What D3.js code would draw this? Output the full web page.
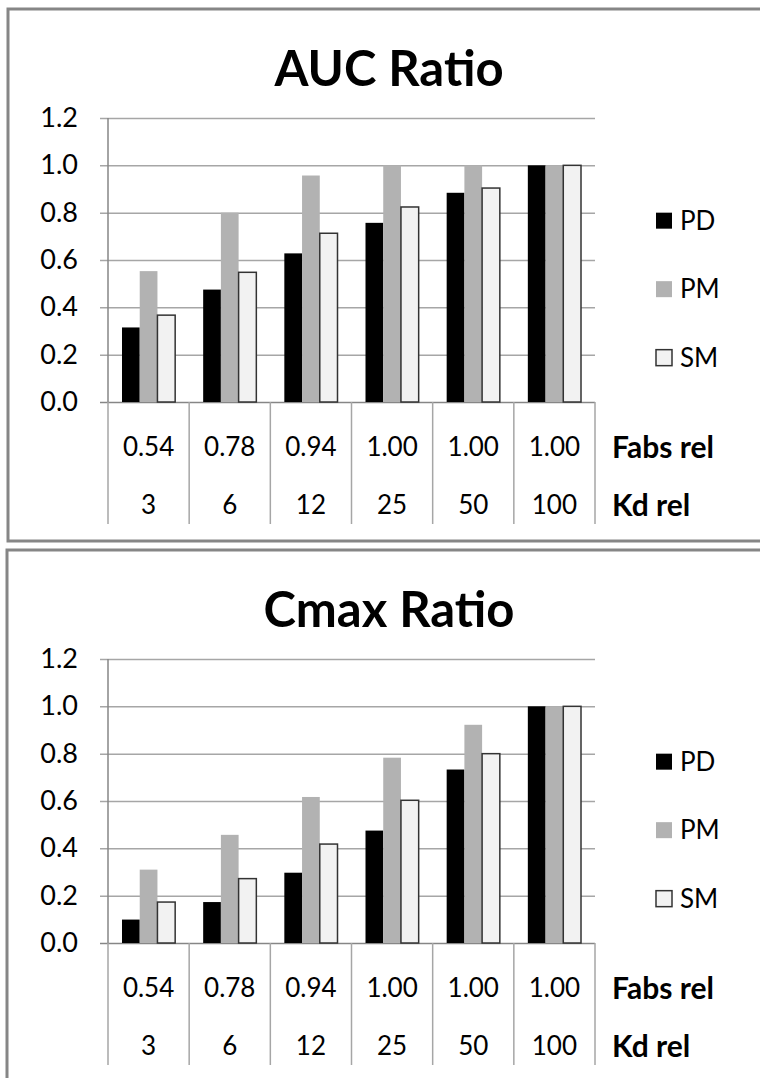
<html>
<head>
<script src="https://d3js.org/d3.v7.min.js"></script>
<style>
  body { margin: 0; background: #fff; }
  text { font-family: Lato, "Open Sans", sans-serif; fill: #000; }
</style>
</head>
<body>
<svg id="chart" width="760" height="1078"></svg>
<script>
// data
const kdRel = ["3", "6", "12", "25", "50", "100"];
const fabsRel = ["0.54", "0.78", "0.94", "1.00", "1.00", "1.00"];
const seriesNames = ["PD", "PM", "SM"];
const yTicks = [0, 0.2, 0.4, 0.6, 0.8, 1.0, 1.2];

const aucPD = [0.315, 0.475, 0.628, 0.757, 0.884, 1.0];
const aucPM = [0.553, 0.80, 0.957, 1.0, 1.0, 1.0];
const aucSM = [0.367, 0.548, 0.713, 0.824, 0.904, 1.0];

const cmaxPD = [0.099, 0.173, 0.297, 0.475, 0.733, 1.0];
const cmaxPM = [0.31, 0.457, 0.617, 0.783, 0.922, 1.0];
const cmaxSM = [0.173, 0.272, 0.418, 0.603, 0.80, 1.0];

const fills = { PD: "#000000", PM: "#b2b2b2", SM: "#f2f2f2" };
const strokes = { PD: "#000000", PM: "none", SM: "#333333" };

const svg = d3.select("svg#chart");

const plotLeft = 108, plotRight = 595;

const x = d3.scaleBand().domain(kdRel).range([plotLeft, plotRight]);
const xSub = d3.scaleBand().domain(seriesNames)
  .range([14, x.bandwidth() - 14]);

function drawPanel(title, pd, pm, sm, top, left) {
  const values = { PD: pd, PM: pm, SM: sm };
  const g = svg.append("g");
  const y = d3.scaleLinear().domain([0, 1.2]).range([top + 393, top + 109]);
  const y0 = y(0);

  // panel border
  g.append("rect")
    .attr("x", left).attr("y", top)
    .attr("width", 900).attr("height", 532)
    .attr("fill", "none")
    .attr("stroke", "#868686")
    .attr("stroke-width", 3);

  // title
  g.append("text")
    .attr("x", 389).attr("y", top + 77)
    .attr("text-anchor", "middle")
    .attr("font-size", 49)
    .attr("font-weight", "bold")
    .text(title);

  // y axis + gridlines
  const yAxis = d3.axisLeft(y)
    .tickValues(yTicks)
    .tickFormat(d3.format(".1f"))
    .tickSizeInner(-(plotRight - plotLeft))
    .tickSizeOuter(0);

  const ag = g.append("g")
    .attr("transform", `translate(${plotLeft},0)`)
    .call(yAxis);
  ag.select(".domain").remove();
  ag.selectAll(".tick line")
    .attr("x1", -8)
    .attr("stroke", d => d === 0 ? "#868686" : "#a6a6a6")
    .attr("stroke-width", 1.5);
  ag.selectAll(".tick text")
    .attr("x", -30)
    .attr("font-size", 27)
    .attr("font-family", "Lato, sans-serif")
    .attr("fill", "#000");

  // vertical axis line
  g.append("line")
    .attr("x1", plotLeft).attr("x2", plotLeft)
    .attr("y1", y(1.2)).attr("y2", y0)
    .attr("stroke", "#868686").attr("stroke-width", 1.5);

  // bars
  seriesNames.forEach(s => {
    g.append("g").selectAll("rect")
      .data(kdRel)
      .join("rect")
      .attr("x", (d, i) => x(d) + xSub(s))
      .attr("y", (d, i) => y(values[s][i]))
      .attr("width", xSub.bandwidth())
      .attr("height", (d, i) => y0 - y(values[s][i]))
      .attr("fill", fills[s])
      .attr("stroke", strokes[s])
      .attr("stroke-width", s === "SM" ? 1.5 : 0);
  });

  // data table separators
  const seps = kdRel.map(d => x(d)).concat([plotRight]);
  g.append("g").selectAll("line")
    .data(seps)
    .join("line")
    .attr("x1", d => d).attr("x2", d => d)
    .attr("y1", y0).attr("y2", y0 + 122)
    .attr("stroke", "#a6a6a6").attr("stroke-width", 1.5);

  // data table rows
  g.append("g").selectAll("text")
    .data(fabsRel)
    .join("text")
    .attr("x", (d, i) => x(kdRel[i]) + x.bandwidth() / 2)
    .attr("y", y0 + 54)
    .attr("text-anchor", "middle")
    .attr("font-size", 26)
    .text(d => d);

  g.append("g").selectAll("text")
    .data(kdRel)
    .join("text")
    .attr("x", d => x(d) + x.bandwidth() / 2)
    .attr("y", y0 + 112)
    .attr("text-anchor", "middle")
    .attr("font-size", 26)
    .text(d => d);

  g.append("text")
    .attr("x", 612).attr("y", y0 + 56)
    .attr("font-size", 30)
    .attr("font-weight", "bold")
    .text("Fabs rel");
  g.append("text")
    .attr("x", 612).attr("y", y0 + 114)
    .attr("font-size", 30)
    .attr("font-weight", "bold")
    .text("Kd rel");

  // legend
  const legendY = d3.scalePoint().domain(seriesNames)
    .range([y(0.8) + 8, y(0.2) + 3]);
  const lg = g.append("g").selectAll("g")
    .data(seriesNames)
    .join("g")
    .attr("transform", d => `translate(656,${legendY(d)})`);
  lg.append("rect")
    .attr("x", 0).attr("y", -8)
    .attr("width", 16).attr("height", 16)
    .attr("fill", d => fills[d])
    .attr("stroke", d => d === "SM" ? "#333" : "none")
    .attr("stroke-width", 1.5);
  lg.append("text")
    .attr("x", 24).attr("y", 9)
    .attr("font-size", 26)
    .text(d => d);
}

drawPanel("AUC Ratio", aucPD, aucPM, aucSM, 9, 8);
drawPanel("Cmax Ratio", cmaxPD, cmaxPM, cmaxSM, 550, 7);
</script>
</body>
</html>
